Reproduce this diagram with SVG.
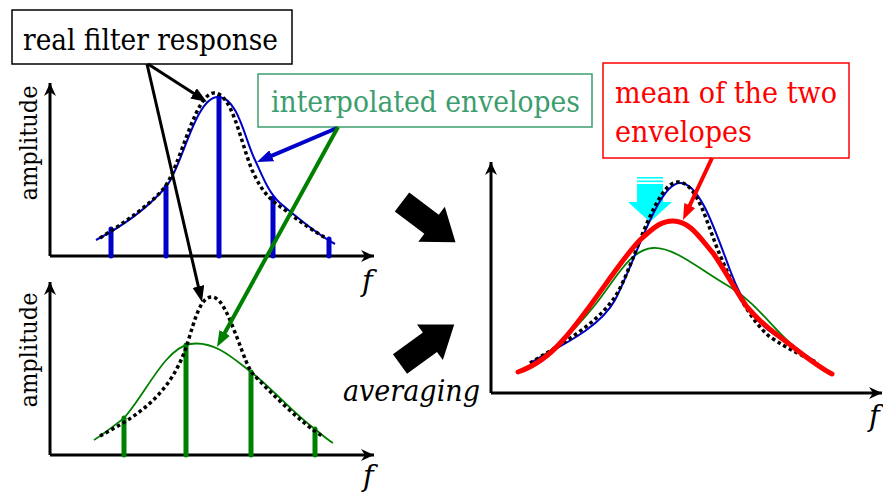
<svg xmlns="http://www.w3.org/2000/svg" width="883" height="493" viewBox="0 0 883 493">
<style>
  text { font-family: "DejaVu Serif", serif; font-size: 29px; }
  .it { font-style: italic; }
  .axis { stroke: #000; stroke-width: 3; fill: none; }
  .dot { stroke: #000; stroke-width: 3.5; stroke-dasharray: 3.5 3; fill: none; }
  .blue { stroke: #0000c8; stroke-width: 2; fill: none; }
  .green { stroke: #008000; stroke-width: 1.8; fill: none; }
  .red { stroke: #ff0000; stroke-width: 5; fill: none; stroke-linecap: round; }
  .bstem { stroke: #0000c8; stroke-width: 5; stroke-linecap: round; }
  .gstem { stroke: #008000; stroke-width: 5; stroke-linecap: round; }
</style>
<defs>
  <marker id="ax" markerWidth="14" markerHeight="12" refX="13" refY="6" orient="auto" markerUnits="userSpaceOnUse">
    <path d="M0,0 L13,6 L0,12 L4,6 Z" fill="#000"/>
  </marker>
  <marker id="ak" markerWidth="16" markerHeight="12" refX="6" refY="6" orient="auto" markerUnits="userSpaceOnUse">
    <path d="M0,0 L16,6 L0,12 Z" fill="#000"/>
  </marker>
  <marker id="ab" markerWidth="16" markerHeight="12" refX="6" refY="6" orient="auto" markerUnits="userSpaceOnUse">
    <path d="M0,0 L16,6 L0,12 Z" fill="#0000c8"/>
  </marker>
  <marker id="ag" markerWidth="16" markerHeight="12" refX="6" refY="6" orient="auto" markerUnits="userSpaceOnUse">
    <path d="M0,0 L16,6 L0,12 Z" fill="#008000"/>
  </marker>
  <marker id="ar" markerWidth="16" markerHeight="12" refX="6" refY="6" orient="auto" markerUnits="userSpaceOnUse">
    <path d="M0,0 L16,6 L0,12 Z" fill="#ff0000"/>
  </marker>
  <path id="fat" d="M0,-12 L37,-12 L37,-22 L67,0 L37,22 L37,12 L0,12 Z" fill="#000"/>
</defs>

<g id="plot-top">
  <line class="axis" x1="50" y1="256" x2="50" y2="83" marker-end="url(#ax)"/>
  <line class="axis" x1="50" y1="256" x2="374" y2="256" marker-end="url(#ax)"/>
  <text style="font-size:25px" transform="translate(37,143) rotate(-90)" text-anchor="middle" textLength="115" lengthAdjust="spacingAndGlyphs">amplitude</text>
  <text class="it" x="362" y="291">f</text>
  <line class="bstem" x1="111" y1="256" x2="111" y2="229"/>
  <line class="bstem" x1="166" y1="256" x2="166" y2="187"/>
  <line class="bstem" x1="219" y1="256" x2="219" y2="97"/>
  <line class="bstem" x1="273" y1="256" x2="273" y2="198"/>
  <line class="bstem" x1="329" y1="256" x2="329" y2="239"/>
  <path class="blue" d="M96,240 C125,225 150,205 166,187 C182,168 195,97 218,97 C238,97 245,140 255,160 C262,175 268,192 280,203 C300,220 320,236 335,244"/>
  <path class="dot" d="M100,238 C125,222 150,205 164,188 C180,168 195,93 214,93 C232,93 240,140 252,170 C262,192 270,200 285,210 C300,222 315,232 326,238"/>
</g>

<g id="plot-bottom">
  <line class="axis" x1="50" y1="455" x2="50" y2="282" marker-end="url(#ax)"/>
  <line class="axis" x1="50" y1="455" x2="374" y2="455" marker-end="url(#ax)"/>
  <text style="font-size:25px" transform="translate(37,350) rotate(-90)" text-anchor="middle" textLength="115" lengthAdjust="spacingAndGlyphs">amplitude</text>
  <text class="it" x="363" y="486">f</text>
  <line class="gstem" x1="124" y1="455" x2="124" y2="418"/>
  <line class="gstem" x1="186" y1="455" x2="186" y2="345"/>
  <line class="gstem" x1="251" y1="455" x2="251" y2="372"/>
  <line class="gstem" x1="315" y1="455" x2="315" y2="429"/>
  <path class="green" d="M94,440 C105,433 115,425 124,418 C145,395 165,348 190,344 C215,340 235,360 251,372 C270,386 295,415 315,429 C322,435 328,440 333,443"/>
  <path class="dot" d="M100,436 C120,425 150,410 170,380 C180,365 185,352 190,335 C198,308 203,297 212,297 C222,297 230,320 238,340 C244,356 248,368 253,374 C270,392 300,422 322,436"/>
</g>

<g id="plot-right">
  <line class="axis" x1="491" y1="393" x2="491" y2="162" marker-end="url(#ax)"/>
  <line class="axis" x1="491" y1="393" x2="882" y2="393" marker-end="url(#ax)"/>
  <text class="it" x="869" y="426">f</text>
  <g id="cyan-arrow" fill="#00ffff">
    <rect x="637" y="177" width="26" height="1.6"/>
    <rect x="637" y="180.5" width="26" height="1.6"/>
    <rect x="637" y="184" width="26" height="18.5"/>
    <path d="M628,202 L672,202 L650,222 Z"/>
  </g>
  <path class="green" d="M535,360 C555,350 575,330 595,305 C615,280 630,249 653,248 C675,247 700,270 730,287 C755,302 770,325 790,343 C800,352 808,357 812,360"/>
  <path class="blue" d="M530,363 C560,346 600,328 615,300 C635,262 658,183 680,183 C700,183 715,230 730,270 C745,310 760,325 775,335 C790,345 805,355 813,360"/>
  <path class="dot" d="M530,363 C560,345 602,322 619,290 C636,258 656,182 678,182 C698,182 708,228 720,255 C735,290 750,320 770,337 C790,350 805,357 818,363"/>
  <path class="red" d="M518,372 C535,366 550,355 563,340 C590,310 620,260 640,240 C655,226 662,221 673,221 C690,221 700,238 713,253 C725,270 735,290 747,307 C760,322 770,330 780,337 C800,352 815,365 832,374"/>
</g>

<g id="averaging">
  <use href="#fat" transform="translate(402,202) rotate(37)"/>
  <use href="#fat" transform="translate(400,364) rotate(-36)"/>
  <text class="it" x="343" y="401" textLength="137" lengthAdjust="spacingAndGlyphs">averaging</text>
</g>

<g id="label-real">
  <rect x="12" y="10" width="280" height="54" fill="#fff" stroke="#000" stroke-width="1.5"/>
  <text x="23" y="50" textLength="255" lengthAdjust="spacingAndGlyphs">real filter response</text>
</g>
<g id="label-interp">
  <rect x="258" y="74" width="334" height="53" fill="#fff" stroke="#3c9e6e" stroke-width="1.5"/>
  <text x="271" y="112" fill="#3c9e6e" textLength="309" lengthAdjust="spacingAndGlyphs">interpolated envelopes</text>
</g>
<g id="label-mean">
  <rect x="603" y="63" width="246" height="95" fill="#fff" stroke="#ff0000" stroke-width="1.5"/>
  <text x="615" y="103" fill="#ff0000" textLength="222" lengthAdjust="spacingAndGlyphs">mean of the two</text>
  <text x="615" y="142" fill="#ff0000" textLength="137" lengthAdjust="spacingAndGlyphs">envelopes</text>
</g>

<g id="connectors">
  <line x1="148" y1="64" x2="198.6" y2="96.6" stroke="#000" stroke-width="3" marker-end="url(#ak)"/>
  <line x1="147" y1="64" x2="199.7" y2="292.3" stroke="#000" stroke-width="3" marker-end="url(#ak)"/>
  <line x1="337" y1="128" x2="266.2" y2="158.1" stroke="#0000c8" stroke-width="4" marker-end="url(#ab)"/>
  <line x1="338" y1="127" x2="221.8" y2="338.2" stroke="#008000" stroke-width="4" marker-end="url(#ag)"/>
  <line x1="712" y1="158" x2="687.2" y2="210.9" stroke="#ff0000" stroke-width="4" marker-end="url(#ar)"/>
</g>
</svg>
